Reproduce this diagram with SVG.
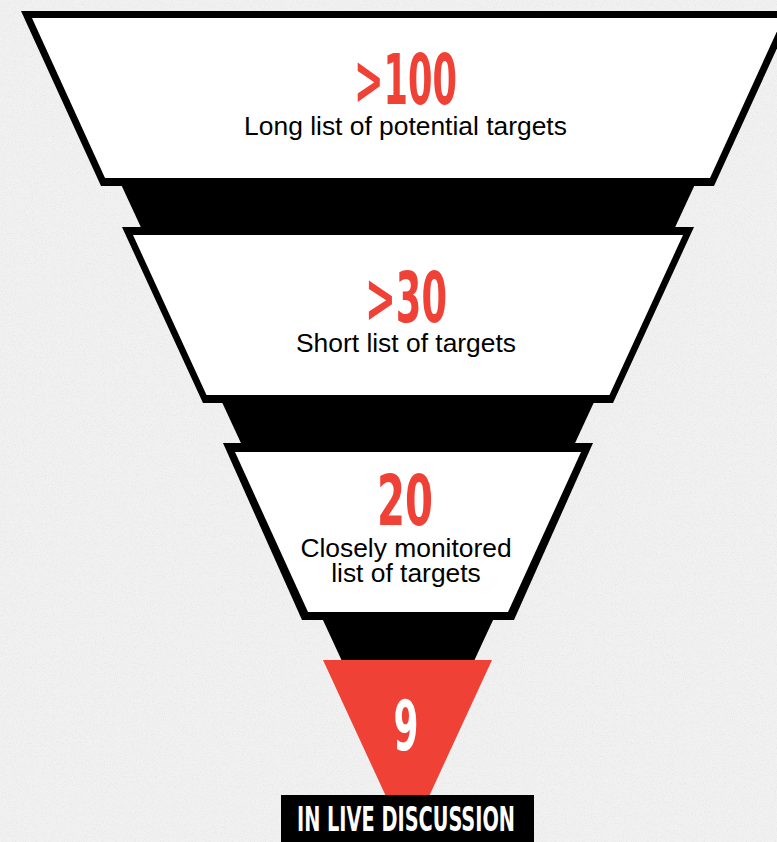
<svg xmlns="http://www.w3.org/2000/svg" width="777" height="842" viewBox="0 0 777 842">
  <defs>
    <!-- soft paper grain for the backdrop -->
    <filter id="grain" x="0" y="0" width="100%" height="100%" filterUnits="userSpaceOnUse">
      <feTurbulence type="fractalNoise" baseFrequency="0.9" numOctaves="3" seed="7" result="n"/>
      <feColorMatrix in="n" type="matrix" values="0 0 0 0 0.5  0 0 0 0 0.5  0 0 0 0 0.5  0 0 0 1.6 -0.75"/>
    </filter>
    <style>
      .frame { fill: #000; }
      .face { fill: #fff; }
      .band { fill: #000; }
      .hot { fill: #ef4136; }
      .num { font-family: "Liberation Sans Narrow", "DejaVu Sans Condensed", "Liberation Sans", sans-serif; font-weight: bold; font-size: 70px; text-anchor: middle; }
      .red { fill: #ef4136; }
      .cap { font-family: "Liberation Sans", Arial, sans-serif; font-size: 26.4px; fill: #000; text-anchor: middle; }
      .tag { font-family: "Liberation Sans Narrow", "DejaVu Sans Condensed", "Liberation Sans", sans-serif; font-weight: bold; font-size: 33px; fill: #fff; text-anchor: middle; }
    </style>
  </defs>

  <!-- backdrop -->
  <rect x="0" y="0" width="777" height="842" fill="#f1f1f1"/>
  <rect x="0" y="0" width="777" height="842" filter="url(#grain)" opacity="0.3"/>

  <!-- black funnel body running behind the stages -->
  <g id="connectors">
    <polygon class="band" points="119,180 697,180 474.5,660 341.5,660"/>
  </g>

  <!-- stage 1 -->
  <g id="stage-1">
    <polygon class="frame" points="21,11 794,11 714,186 101,186"/>
    <polygon class="face" points="32,18 783,18 710,178 105,178"/>
    <text class="num red" x="405.5" y="104" textLength="103" lengthAdjust="spacingAndGlyphs">&gt;100</text>
    <text class="cap" x="405.5" y="135">Long list of potential targets</text>
  </g>

  <!-- stage 2 -->
  <g id="stage-2">
    <polygon class="frame" points="122,227 694,227 613,403 203,403"/>
    <polygon class="face" points="133,235 683,235 609.5,395 206.5,395"/>
    <text class="num red" x="406" y="322" textLength="82" lengthAdjust="spacingAndGlyphs">&gt;30</text>
    <text class="cap" x="406" y="352">Short list of targets</text>
  </g>

  <!-- stage 3 -->
  <g id="stage-3">
    <polygon class="frame" points="223,443 593,443 514,620 302,620"/>
    <polygon class="face" points="235,452 581,452 508,612 308,612"/>
    <text class="num red" x="405" y="525" textLength="56" lengthAdjust="spacingAndGlyphs">20</text>
    <text class="cap" x="406" y="557">Closely monitored</text>
    <text class="cap" x="406" y="582">list of targets</text>
  </g>

  <!-- final stage -->
  <g id="stage-4">
    <polygon class="hot" points="323,660 492,660 407.5,843"/>
    <text class="num" x="406" y="750" fill="#fff" textLength="25" lengthAdjust="spacingAndGlyphs">9</text>
  </g>

  <!-- caption plate -->
  <g id="label">
    <rect x="281" y="795" width="253" height="47" fill="#000"/>
    <text class="tag" x="406" y="831" textLength="218" lengthAdjust="spacingAndGlyphs">IN LIVE DISCUSSION</text>
  </g>
</svg>
